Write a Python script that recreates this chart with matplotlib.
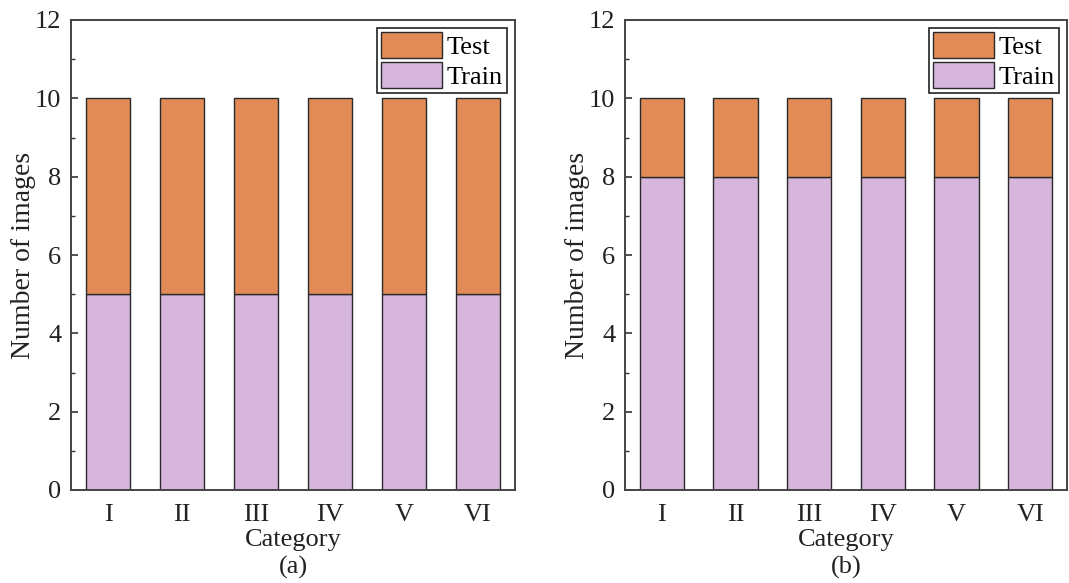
import matplotlib
matplotlib.use("Agg")
import matplotlib.pyplot as plt
from matplotlib.ticker import MultipleLocator

categories = ["I", "II", "III", "IV", "V", "VI"]
train_a = [5, 5, 5, 5, 5, 5]
test_a = [5, 5, 5, 5, 5, 5]
train_b = [8, 8, 8, 8, 8, 8]
test_b = [2, 2, 2, 2, 2, 2]
panel_labels = ["(a)", "(b)"]

plt.rcParams['font.family'] = ['Liberation Serif', 'DejaVu Serif']
plt.rcParams['font.size'] = 19

c_test = "#E38B57"
c_train = "#D6B6DD"

fig = plt.figure(figsize=(10.69, 5.83), dpi=100)
ax1 = fig.add_axes([71/1069, 1-490/583, 444/1069, 470/583])
ax2 = fig.add_axes([625/1069, 1-490/583, 442/1069, 470/583])

x = list(range(1, len(categories) + 1))
for ax, tr, te, pl in [(ax1, train_a, test_a, panel_labels[0]), (ax2, train_b, test_b, panel_labels[1])]:
    ax.bar(x, tr, width=0.6, color=c_train, edgecolor="#2a2a2a", linewidth=1.0, label="Train", zorder=2)
    ax.bar(x, te, width=0.6, bottom=tr, color=c_test, edgecolor="#2a2a2a", linewidth=1.0, label="Test", zorder=2)
    ax.set_xlim(0.5, 6.5)
    ax.set_ylim(0, 12)
    ax.set_xticks(x)
    ax.set_xticklabels(categories)
    ax.yaxis.set_major_locator(MultipleLocator(2))
    ax.yaxis.set_minor_locator(MultipleLocator(1))
    ax.tick_params(axis='both', which='major', direction='in', length=5, width=1.2, labelsize=19, colors='#333333', labelcolor='#222222')
    ax.tick_params(axis='y', which='minor', direction='in', length=3, width=1.0, colors='#333333')
    ax.tick_params(axis='x', which='major', pad=10)
    ax.tick_params(axis='y', which='major', pad=7)
    for s in ax.spines.values():
        s.set_linewidth(1.4)
        s.set_color('#444444')
    ax.set_ylabel("Number of images", fontsize=20, color='#222222', labelpad=-1)
    ax.set_xlabel("Category\n" + pl, fontsize=19, color='#222222', linespacing=1.3, labelpad=2)
    handles, labels = ax.get_legend_handles_labels()
    leg = ax.legend(handles[::-1], labels[::-1], loc='upper right', fontsize=19,
                    handlelength=2.3, handleheight=1.15, labelspacing=0.12,
                    borderpad=0.15, handletextpad=0.2, borderaxespad=0.3,
                    fancybox=False, framealpha=1, edgecolor='#222222')
    leg.get_frame().set_linewidth(1.2)

fig.savefig("out.png", dpi=100)
